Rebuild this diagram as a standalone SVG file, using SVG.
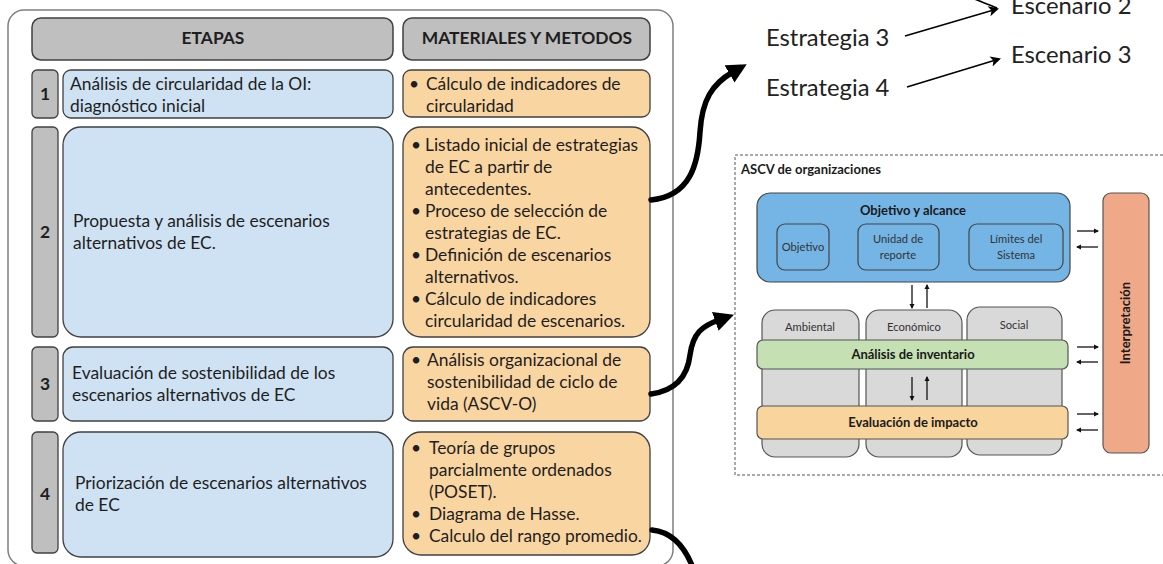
<svg xmlns="http://www.w3.org/2000/svg" width="1163" height="564" viewBox="0 0 1163 564">
<defs>
<style>
.t{font-family:Lato,"Liberation Sans",sans-serif;font-size:17.4px;fill:#1e1e1e}
.b{font-weight:bold}
.hdr{fill:#bfbfbf;stroke:#404040;stroke-width:1.5}
.num{fill:#bfbfbf;stroke:#404040;stroke-width:1.3}
.blue{fill:#cfe2f3;stroke:#404040;stroke-width:1.3}
.ora{fill:#f9d5a2;stroke:#404040;stroke-width:1.3}
.big{font-family:Lato,"Liberation Sans",sans-serif;font-size:23.8px;fill:#222}
.s{font-family:Lato,"Liberation Sans",sans-serif;font-size:11.2px;fill:#333}
.sb{font-family:Lato,"Liberation Sans",sans-serif;font-size:13px;font-weight:bold;fill:#1a1a1a}
.col{fill:#d9d9d9;stroke:#555;stroke-width:1.2}
.inner{fill:#74b5e6;stroke:#444;stroke-width:1.2}
.thick{fill:none;stroke:#000;stroke-width:5.5;stroke-linecap:round}
.thin{fill:none;stroke:#000;stroke-width:1.6}
.sm{fill:none;stroke:#111;stroke-width:1.3}
</style>
<marker id="ah" viewBox="0 0 10 10" refX="2" refY="5" markerWidth="3.6" markerHeight="3.6" orient="auto"><path d="M0,0 L10,5 L0,10 Z" fill="#000"/></marker>
<marker id="at" viewBox="0 0 10 10" refX="8" refY="5" markerWidth="8" markerHeight="6.5" orient="auto"><path d="M0,0 L10,5 L0,10 L2.5,5 Z" fill="#000"/></marker>
<marker id="as" viewBox="0 0 10 10" refX="8" refY="5" markerWidth="4" markerHeight="4" orient="auto"><path d="M0,0 L10,5 L0,10 Z" fill="#111"/></marker>
</defs>
<rect width="1163" height="564" fill="#fff"/>

<g id="container"><rect x="8" y="10" width="665" height="556" rx="16" fill="none" stroke="#7f7f7f" stroke-width="1.5"/></g>

<g id="hdr-etapas"><rect class="hdr" x="32" y="18" width="361" height="42" rx="9"/><text class="t b" x="213" y="44" text-anchor="middle" font-size="14">ETAPAS</text></g>
<g id="hdr-materiales"><rect class="hdr" x="403" y="18" width="247" height="42" rx="9"/><text class="t b" x="527" y="44" text-anchor="middle" font-size="14">MATERIALES Y METODOS</text></g>

<g id="row1">
<rect class="num" x="32" y="70" width="26" height="48" rx="5"/><text class="t b" x="45" y="100" text-anchor="middle" font-size="16">1</text>
<rect class="blue" x="63" y="70" width="330" height="48" rx="8"/>
<text class="t" x="70" y="90">Análisis de circularidad de la OI:</text>
<text class="t" x="70" y="112">diagnóstico inicial</text>
</g>
<g id="mat1">
<rect class="ora" x="403" y="70" width="247" height="47" rx="8"/>
<text class="t" x="409" y="90">•</text>
<text class="t" x="426" y="90">Cálculo de indicadores de</text>
<text class="t" x="426" y="112">circularidad</text>
</g>

<g id="row2">
<rect class="num" x="32" y="127" width="26" height="210" rx="5"/><text class="t b" x="45" y="238" text-anchor="middle" font-size="16">2</text>
<rect class="blue" x="63" y="127" width="330" height="210" rx="18"/>
<text class="t" x="73" y="227">Propuesta y análisis de escenarios</text>
<text class="t" x="73" y="249">alternativos de EC.</text>
</g>
<g id="mat2">
<rect class="ora" x="403" y="127" width="247" height="210" rx="18"/>
<text class="t" x="411" y="151">•</text><text class="t" x="425" y="151">Listado inicial de estrategias</text>
<text class="t" x="425" y="173">de EC a partir de</text>
<text class="t" x="425" y="195">antecedentes.</text>
<text class="t" x="411" y="217">•</text><text class="t" x="425" y="217">Proceso de selección de</text>
<text class="t" x="425" y="239">estrategias de EC.</text>
<text class="t" x="411" y="261">•</text><text class="t" x="425" y="261">Definición de escenarios</text>
<text class="t" x="425" y="283">alternativos.</text>
<text class="t" x="411" y="305">•</text><text class="t" x="425" y="305">Cálculo de indicadores</text>
<text class="t" x="425" y="327">circularidad de escenarios.</text>
</g>

<g id="row3">
<rect class="num" x="32" y="347" width="26" height="74" rx="5"/><text class="t b" x="45" y="390" text-anchor="middle" font-size="16">3</text>
<rect class="blue" x="63" y="347" width="330" height="74" rx="10"/>
<text class="t" x="72" y="379">Evaluación de sostenibilidad de los</text>
<text class="t" x="72" y="401">escenarios alternativos de EC</text>
</g>
<g id="mat3">
<rect class="ora" x="403" y="347" width="247" height="74" rx="10"/>
<text class="t" x="411" y="366">•</text><text class="t" x="427" y="366">Análisis organizacional de</text>
<text class="t" x="427" y="388">sostenibilidad de ciclo de</text>
<text class="t" x="427" y="410">vida (ASCV-O)</text>
</g>

<g id="row4">
<rect class="num" x="32" y="432" width="26" height="121" rx="5"/><text class="t b" x="45" y="500" text-anchor="middle" font-size="16">4</text>
<rect class="blue" x="63" y="432" width="330" height="125" rx="18"/>
<text class="t" x="75" y="489">Priorización de escenarios alternativos</text>
<text class="t" x="75" y="511">de EC</text>
</g>
<g id="mat4">
<rect class="ora" x="403" y="432" width="247" height="123" rx="18"/>
<text class="t" x="411" y="454">•</text><text class="t" x="429" y="454">Teoría de grupos</text>
<text class="t" x="429" y="476">parcialmente ordenados</text>
<text class="t" x="429" y="498">(POSET).</text>
<text class="t" x="411" y="520">•</text><text class="t" x="429" y="520">Diagrama de Hasse.</text>
<text class="t" x="411" y="542">•</text><text class="t" x="429" y="542">Calculo del rango promedio.</text>
</g>

<g id="strategies">
<text class="big" x="1011" y="14">Escenario 2</text>
<text class="big" x="766" y="46">Estrategia 3</text>
<text class="big" x="1011" y="63">Escenario 3</text>
<text class="big" x="766" y="96">Estrategia 4</text>
</g>

<g id="ascv">
<rect x="735" y="155" width="440" height="320" fill="none" stroke="#555" stroke-width="1" stroke-dasharray="3,2"/>
<text class="sb" x="741" y="174" font-size="11.5">ASCV de organizaciones</text>
<g id="objetivo-alcance">
<rect x="757" y="193" width="313" height="89" rx="13" fill="#74b5e6" stroke="#444" stroke-width="1.2"/>
<text class="sb" x="913" y="215" text-anchor="middle">Objetivo y alcance</text>
<rect class="inner" x="777" y="224" width="52" height="46" rx="8"/><text class="s" x="803" y="251" text-anchor="middle">Objetivo</text>
<rect class="inner" x="858" y="224" width="81" height="46" rx="8"/><text class="s" x="898" y="243" text-anchor="middle">Unidad de</text><text class="s" x="898" y="259" text-anchor="middle">reporte</text>
<rect class="inner" x="969" y="224" width="94" height="46" rx="8"/><text class="s" x="1016" y="243" text-anchor="middle">Límites del</text><text class="s" x="1016" y="259" text-anchor="middle">Sistema</text>
</g>
<g id="col-ambiental"><rect class="col" x="762" y="310" width="97" height="147" rx="13"/><text class="s" x="810" y="331" text-anchor="middle">Ambiental</text></g>
<g id="col-economico"><rect class="col" x="866" y="310" width="96" height="147" rx="13"/><text class="s" x="914" y="331" text-anchor="middle">Económico</text></g>
<g id="col-social"><rect class="col" x="967" y="307" width="95" height="148" rx="13"/><text class="s" x="1014" y="329" text-anchor="middle">Social</text></g>
<g id="inventario"><rect x="757" y="340" width="311" height="29" rx="6" fill="#c5e0b3" stroke="#555" stroke-width="1.2"/><text class="sb" x="913" y="359" text-anchor="middle">Análisis de inventario</text></g>
<g id="impacto"><rect x="757" y="406" width="311" height="33" rx="6" fill="#f9d49c" stroke="#555" stroke-width="1.2"/><text class="sb" x="913" y="427" text-anchor="middle">Evaluación de impacto</text></g>
<g id="interpretacion"><rect x="1103" y="193" width="46" height="260" rx="8" fill="#f0a988" stroke="#555" stroke-width="1.2"/><text class="sb" x="0" y="0" text-anchor="middle" transform="translate(1130,323) rotate(-90)">Interpretación</text></g>
</g>

<g id="connectors">
<path class="thick" d="M651,200 C690,196 698,165 700,132 C702,100 712,84 733,72" marker-end="url(#ah)"/>
<path class="thick" d="M651,394 C680,390 688,372 690,355 C693,333 702,326 719,320" marker-end="url(#ah)"/>
<path class="thick" d="M652,530 C672,532 685,547 693,568"/>
<path class="thin" d="M905,36 L997,9" marker-end="url(#at)"/>
<path class="thin" d="M972,-2 C982,2 990,5 997,8"/>
<path class="thin" d="M907,87 L999,59" marker-end="url(#at)"/>
<path class="sm" d="M1077,231 L1098,231" marker-end="url(#as)"/>
<path class="sm" d="M1098,247 L1077,247" marker-end="url(#as)"/>
<path class="sm" d="M1077,347 L1098,347" marker-end="url(#as)"/>
<path class="sm" d="M1098,362 L1077,362" marker-end="url(#as)"/>
<path class="sm" d="M1077,414 L1098,414" marker-end="url(#as)"/>
<path class="sm" d="M1098,430 L1077,430" marker-end="url(#as)"/>
<path class="sm" d="M912,285 L912,308" marker-end="url(#as)"/>
<path class="sm" d="M927,308 L927,285" marker-end="url(#as)"/>
<path class="sm" d="M912,377 L912,400" marker-end="url(#as)"/>
<path class="sm" d="M927,400 L927,377" marker-end="url(#as)"/>
</g>
</svg>
